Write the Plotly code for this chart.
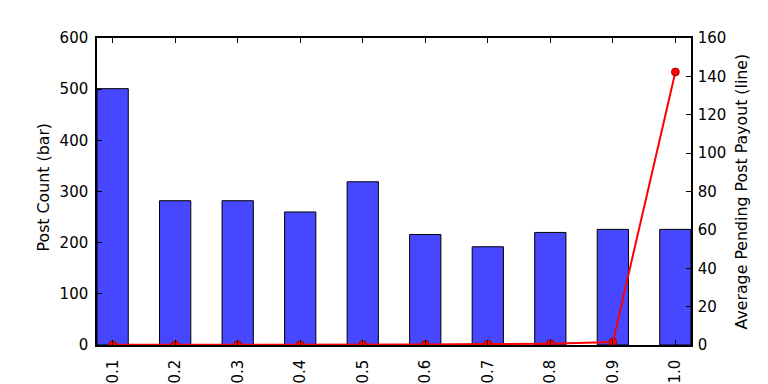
import plotly.graph_objects as go

categories = ["0.1", "0.2", "0.3", "0.4", "0.5", "0.6", "0.7", "0.8", "0.9", "1.0"]
post_count = [501, 282, 282, 260, 319, 216, 192, 220, 226, 226]
avg_payout = [0.1, 0.1, 0.1, 0.1, 0.2, 0.3, 0.5, 0.7, 1.5, 142.3]

x_title = "Payout percentile"
y_title = "Post Count (bar)"
y2_title = "Average Pending Post Payout (line)"

x_pos = list(range(len(categories)))
font = "DejaVu Sans"
fs = 15
fs_title = 15.8

fig = go.Figure()
fig.add_trace(go.Bar(
    x=x_pos, y=post_count, width=0.5,
    marker=dict(color="rgba(0,0,255,0.72)", line=dict(color="black", width=1)),
    yaxis="y", showlegend=False,
))
fig.add_trace(go.Scatter(
    x=x_pos, y=avg_payout, mode="lines+markers",
    line=dict(color="#ff0000", width=2),
    marker=dict(color="#ff0000", size=8, line=dict(color="#800000", width=0.7)),
    yaxis="y2", showlegend=False,
))

fig.update_layout(
    width=768, height=384,
    margin=dict(l=97, r=77, t=38, b=39),
    plot_bgcolor="white", paper_bgcolor="white",
    font=dict(family=font, size=fs, color="black"),
    xaxis=dict(
        range=[-0.25, 9.25], tickmode="array", tickvals=x_pos, ticktext=categories,
        tickangle=-90, ticks="inside", ticklen=5, tickcolor="black",
        ticklabelstandoff=7,
        showline=True, linecolor="black", linewidth=1.5, mirror="ticks",
        showgrid=False, zeroline=False, automargin=False,
    ),
    yaxis=dict(
        range=[0, 600], dtick=100, ticks="inside", ticklen=5, tickcolor="black",
        ticklabelstandoff=4,
        showline=True, linecolor="black", linewidth=1.5,
        showgrid=False, zeroline=False, automargin=False,
    ),
    yaxis2=dict(
        range=[0, 160], dtick=20, overlaying="y", side="right",
        ticks="inside", ticklen=5, tickcolor="black",
        ticklabelstandoff=2,
        showline=True, linecolor="black", linewidth=1.5,
        showgrid=False, zeroline=False, automargin=False,
    ),
    annotations=[
        dict(text=x_title, xref="paper", yref="paper", x=0.5, y=0,
             xanchor="center", yanchor="top", yshift=-37, showarrow=False,
             font=dict(size=fs_title)),
        dict(text=y_title, xref="paper", yref="paper", x=0, y=0.5,
             xanchor="center", yanchor="middle", xshift=-54, yshift=4, textangle=-90,
             showarrow=False, font=dict(size=fs_title)),
        dict(text=y2_title, xref="paper", yref="paper", x=1, y=0.5,
             xanchor="center", yanchor="middle", xshift=50, textangle=-90,
             showarrow=False, font=dict(size=fs_title)),
    ],
)

fig.write_html("out.html")
